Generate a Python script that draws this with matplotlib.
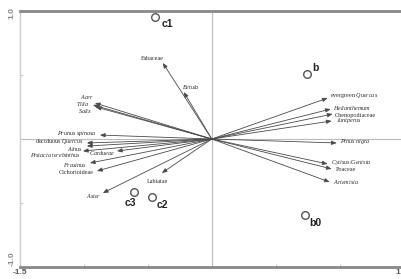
import matplotlib
matplotlib.use("Agg")
import matplotlib.pyplot as plt

plt.rcParams['mathtext.fontset'] = 'custom'
plt.rcParams['mathtext.rm'] = 'Liberation Serif'
plt.rcParams['mathtext.it'] = 'Liberation Serif:italic'

# --- data: taxa (arrows) ---
taxa = ["Fabaceae", "$\\mathit{Betula}$", "$\\mathit{Acer}$", "$\\mathit{Tilia}$", "$\\mathit{Salix}$",
        "$\\mathit{Prunus\\ spinosa}$", "deciduous $\\mathit{Quercus}$", "$\\mathit{Alnus}$",
        "$\\mathit{Pistacia\\ terebinthus}$", "$\\mathit{Cardueae}$", "$\\mathit{Fraxinus}$",
        "Cichorioideae", "$\\mathit{Aster}$", "Labiatae",
        "evergreen $\\mathit{Quercus}$", "$\\mathit{Helianthemum}$", "Chenopodiaceae",
        "$\\mathit{Juniperus}$", "$\\mathit{Pinus\\ nigra}$", "$\\mathit{Cytisus/Genista}$",
        "Poaceae", "$\\mathit{Artemisia}$"]
taxa_x = [-0.383, -0.219, -0.914, -0.930, -0.906, -0.875, -0.977, -0.977, -1.008, -0.742,
          -0.953, -0.898, -0.852, -0.391, 0.906, 0.930, 0.945, 0.9375, 0.977, 0.906, 0.9375, 0.922]
taxa_y = [0.594, 0.367, 0.281, 0.266, 0.250, 0.031, -0.031, -0.055, -0.094, -0.094,
          -0.1875, -0.25, -0.422, -0.266, 0.320, 0.234, 0.195, 0.141, -0.031, -0.195, -0.234, -0.336]

# --- data: samples ---
samples = ["c1", "b", "c3", "c2", "b0"]
samples_x = [-0.445, 0.742, -0.609, -0.469, 0.727]
samples_y = [0.953, 0.508, -0.414, -0.453, -0.594]

# --- layout: label offsets in pixels (dx, dy up) and alignment ---
taxa_layout = [('right', 1, 4), ('left', -2, 5), ('right', -1, 6), ('right', -4, 1), ('right', -4, -4),
               ('right', -3, 2), ('right', -3, 1), ('right', -4, -2.5), ('right', -2, -3.5), ('right', -2, -2),
               ('right', -3, -2), ('right', -3, -2), ('right', -2, -3), ('center', -4, -8),
               ('left', 2, 3), ('left', 2, 1), ('left', 2, -1), ('left', 4, 0), ('left', 3, 1),
               ('left', 3, 1), ('left', 4, -1), ('left', 3, 0)]
samples_layout = [('left', 7, -7), ('left', 6, 6), ('center', -4, -11), ('left', 5, -8), ('left', 5, -8)]

fig = plt.figure(figsize=(4.01, 2.79), dpi=100)
ax = fig.add_axes([20/401, 12/279, 381/401, 256/279])
ax.set_xlim(-1.5, 1.48)
ax.set_ylim(-1.0, 1.0)

ax.axhline(0, color='#bbbbbb', lw=0.8, zorder=1)
ax.axvline(0, color='#bbbbbb', lw=0.8, zorder=1)

px = 0.72
for name, x, y, (ha, dx, dy) in zip(taxa, taxa_x, taxa_y, taxa_layout):
    ax.annotate('', xy=(x, y), xytext=(0, 0),
                arrowprops=dict(arrowstyle='-|>,head_length=0.3,head_width=0.12',
                                color='#4a4a4a', lw=0.6, shrinkA=0, shrinkB=0), zorder=2)
    ax.annotate(name, xy=(x, y), xytext=(dx*px, dy*px), textcoords='offset points',
                ha=ha, va='center', fontsize=4.4, family='Liberation Serif', color='#2a2a2a', zorder=3)

ax.scatter(samples_x, samples_y, s=30, facecolors='white', edgecolors='#555555', linewidths=1.0, zorder=4)
for name, x, y, (ha, dx, dy) in zip(samples, samples_x, samples_y, samples_layout):
    ax.annotate(name, xy=(x, y), xytext=(dx*px, dy*px), textcoords='offset points',
                ha=ha, va='center', fontsize=7.5, fontweight='bold', family='Liberation Sans',
                color='#222222', zorder=5)

for s in ['top', 'bottom']:
    ax.spines[s].set_color('#888888')
    ax.spines[s].set_linewidth(2.0)
ax.spines['left'].set_color('#cccccc')
ax.spines['left'].set_linewidth(1.0)
ax.spines['right'].set_visible(False)

ax.set_xticks([-1.0, -0.5, 0.5, 1.0])
ax.set_yticks([-0.5, 0.5])
ax.tick_params(length=2, width=0.6, color='#bbbbbb', labelbottom=False, labelleft=False, direction='in')

fig.text(20/401, 6/279, '-1.5', ha='center', va='center', fontsize=6,
         color='#555555', family='Liberation Sans', fontweight='bold')
fig.text(398/401, 6/279, '1', ha='center', va='center', fontsize=6,
         color='#555555', family='Liberation Sans', fontweight='bold')
fig.text(12/401, 266/279, '1.0', ha='center', va='center', rotation=90, fontsize=6,
         color='#888888', family='Liberation Sans', fontweight='bold')
fig.text(12/401, 13/279, '-1.0', ha='center', va='bottom', rotation=90, fontsize=6,
         color='#888888', family='Liberation Sans', fontweight='bold')

fig.savefig('out.png', dpi=100, facecolor='white')
